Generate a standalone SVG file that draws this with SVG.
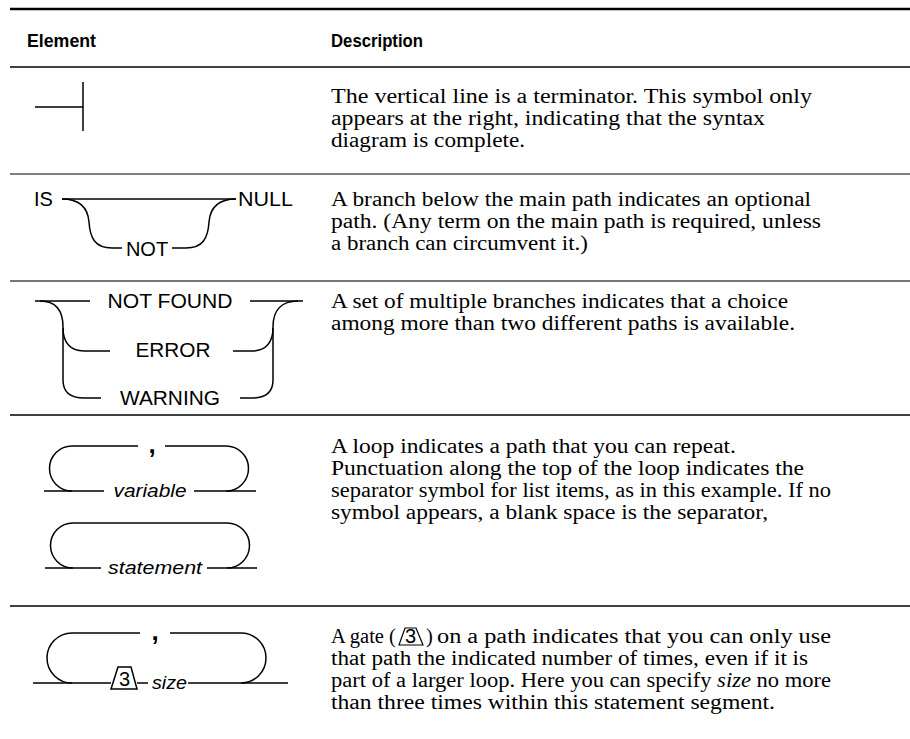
<svg xmlns="http://www.w3.org/2000/svg" width="910" height="739" viewBox="0 0 910 739">
<style>
.hd{font-family:"Liberation Sans",Arial,sans-serif;font-weight:bold;font-size:18px;fill:#000}
.ds{font-family:"Liberation Serif","Times New Roman",serif;font-size:20.5px;fill:#000}
.dg{font-family:"Liberation Sans",Arial,sans-serif;font-size:20px;fill:#000}
.it{font-family:"Liberation Sans",Arial,sans-serif;font-size:19px;font-style:italic;fill:#000}
.cm{font-family:"Liberation Sans",Arial,sans-serif;font-size:26px;font-weight:bold;fill:#000}
.ln{fill:none;stroke:#000;stroke-width:1.5}
.rule{stroke:#000;stroke-width:1.5}
</style>
<rect width="910" height="739" fill="#fff"/>
<g id="table-rules">
<line x1="10" y1="9" x2="910" y2="9" stroke="#000" stroke-width="2.5"/>
<line x1="10" y1="67" x2="910" y2="67" class="rule"/>
<line x1="10" y1="174" x2="910" y2="174" stroke="#000" stroke-width="1"/>
<line x1="10" y1="281" x2="910" y2="281" stroke="#777" stroke-width="2"/>
<line x1="10" y1="415" x2="910" y2="415" class="rule"/>
<line x1="10" y1="606" x2="910" y2="606" class="rule"/>
</g>
<g id="header">
<text class="hd" x="27" y="47" textLength="69" lengthAdjust="spacingAndGlyphs">Element</text>
<text class="hd" x="331" y="47" textLength="92" lengthAdjust="spacingAndGlyphs">Description</text>
</g>
<g id="row-terminator">
<path class="ln" d="M35,107 H83 M83,82 V131"/>
<text class="ds" x="331" y="103" textLength="481" lengthAdjust="spacingAndGlyphs">The vertical line is a terminator. This symbol only</text>
<text class="ds" x="331" y="125" textLength="434" lengthAdjust="spacingAndGlyphs">appears at the right, indicating that the syntax</text>
<text class="ds" x="331" y="147" textLength="194" lengthAdjust="spacingAndGlyphs">diagram is complete.</text>
</g>
<g id="row-optional">
<text class="dg" x="34" y="206">IS</text>
<text class="dg" x="238" y="206" textLength="55" lengthAdjust="spacingAndGlyphs">NULL</text>
<text class="dg" x="147" y="256" text-anchor="middle">NOT</text>
<g class="connectors">
<path class="ln" d="M62,199 H236"/>
<path class="ln" d="M62,199 C82,199 88,210 89,222 C90,238 95,248 112,248 L122,248"/>
<path class="ln" d="M236,199 C216,199 210,210 209,222 C208,238 203,248 186,248 L172,248"/>
</g>
<text class="ds" x="331" y="206" textLength="480" lengthAdjust="spacingAndGlyphs">A branch below the main path indicates an optional</text>
<text class="ds" x="331" y="228" textLength="490" lengthAdjust="spacingAndGlyphs">path. (Any term on the main path is required, unless</text>
<text class="ds" x="331" y="250" textLength="257" lengthAdjust="spacingAndGlyphs">a branch can circumvent it.)</text>
</g>
<g id="row-choice">
<text class="dg" x="170" y="308" text-anchor="middle" textLength="125" lengthAdjust="spacingAndGlyphs">NOT FOUND</text>
<text class="dg" x="173" y="357" text-anchor="middle" textLength="75" lengthAdjust="spacingAndGlyphs">ERROR</text>
<text class="dg" x="170" y="405" text-anchor="middle" textLength="100" lengthAdjust="spacingAndGlyphs">WARNING</text>
<g class="connectors">
<path class="ln" d="M35,301 H90 M250,301 H303"/>
<path class="ln" d="M40,301 C56,301 63,310 63,327 L63,380 C63,392 70,398 84,398 L101,398"/>
<path class="ln" d="M63,328 C63,342 70,351 84,351 L110,351"/>
<path class="ln" d="M298,301 C282,301 273,310 273,327 L273,380 C273,392 266,398 252,398 L240,398"/>
<path class="ln" d="M273,328 C273,342 266,351 252,351 L233,351"/>
</g>
<text class="ds" x="331" y="308" textLength="457" lengthAdjust="spacingAndGlyphs">A set of multiple branches indicates that a choice</text>
<text class="ds" x="331" y="330" textLength="464" lengthAdjust="spacingAndGlyphs">among more than two different paths is available.</text>
</g>
<g id="row-loop">
<text class="cm" x="152" y="453" text-anchor="middle">,</text>
<text class="it" x="150" y="497" text-anchor="middle" textLength="73" lengthAdjust="spacingAndGlyphs">variable</text>
<text class="it" x="155" y="574" text-anchor="middle" textLength="94" lengthAdjust="spacingAndGlyphs">statement</text>
<g class="connectors">
<path class="ln" d="M72,446 H138 M165,446 H226"/>
<path class="ln" d="M72,446 A22.5,22.5 0 0 0 72,491"/>
<path class="ln" d="M226,446 A22.5,22.5 0 0 1 226,491"/>
<path class="ln" d="M44,491 H104 M194,491 H256"/>
<path class="ln" d="M73,523 H227"/>
<path class="ln" d="M73,523 A22.5,22.5 0 0 0 73,568"/>
<path class="ln" d="M227,523 A22.5,22.5 0 0 1 227,568"/>
<path class="ln" d="M45,568 H101 M207,568 H257"/>
</g>
<text class="ds" x="331" y="453" textLength="405" lengthAdjust="spacingAndGlyphs">A loop indicates a path that you can repeat.</text>
<text class="ds" x="331" y="475" textLength="473" lengthAdjust="spacingAndGlyphs">Punctuation along the top of the loop indicates the</text>
<text class="ds" x="331" y="497" textLength="500" lengthAdjust="spacingAndGlyphs">separator symbol for list items, as in this example. If no</text>
<text class="ds" x="331" y="519" textLength="437" lengthAdjust="spacingAndGlyphs">symbol appears, a blank space is the separator,</text>
</g>
<g id="row-gate">
<text class="cm" x="155" y="640" text-anchor="middle">,</text>
<path class="ln" d="M111,689 L118,667 H131 L137,689 Z"/>
<text class="dg" x="124.5" y="686" text-anchor="middle" font-size="17">3</text>
<text class="it" x="152" y="689" textLength="35" lengthAdjust="spacingAndGlyphs">size</text>
<g class="connectors">
<path class="ln" d="M72,633 H140 M170,633 H241"/>
<path class="ln" d="M72,633 A25,25 0 0 0 72,683"/>
<path class="ln" d="M241,633 A25,25 0 0 1 241,683"/>
<path class="ln" d="M33,683 H111 M137,683 H148 M188,683 H288"/>
</g>
<text class="ds" x="331" y="643">A gate (</text>
<path d="M399,645 L405,628 H416 L423,645 Z" fill="none" stroke="#000" stroke-width="1.2"/>
<text class="dg" x="410.5" y="643" text-anchor="middle" font-size="16">3</text>
<text class="ds" x="426" y="643">)</text>
<text class="ds" x="437" y="643" textLength="394" lengthAdjust="spacingAndGlyphs">on a path indicates that you can only use</text>
<text class="ds" x="331" y="665" textLength="477" lengthAdjust="spacingAndGlyphs">that path the indicated number of times, even if it is</text>
<text class="ds" x="331" y="687" textLength="500" lengthAdjust="spacingAndGlyphs">part of a larger loop. Here you can specify <tspan font-style="italic">size</tspan> no more</text>
<text class="ds" x="331" y="709" textLength="444" lengthAdjust="spacingAndGlyphs">than three times within this statement segment.</text>
</g>
</svg>
